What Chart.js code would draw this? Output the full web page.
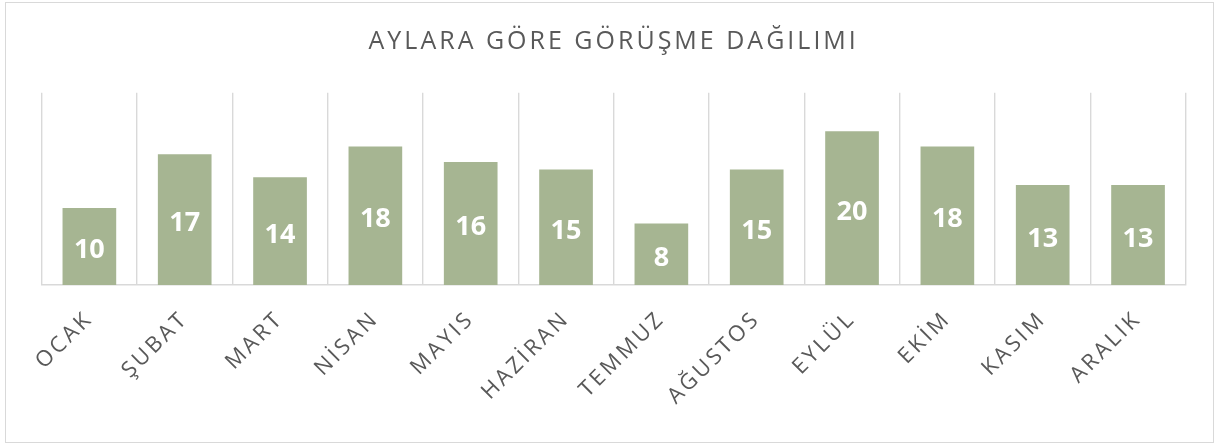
<!DOCTYPE html>
<html lang="tr">
<head>
<meta charset="utf-8">
<title>Aylara Göre Görüşme Dağılımı</title>
<script src="https://cdn.jsdelivr.net/npm/chart.js@4.4.0/dist/chart.umd.min.js"></script>
<style>
    html, body { margin: 0; padding: 0; background: #fff; }
    #wrap { position: relative; width: 1215px; height: 446px; }
    #frame { position: absolute; left: 5px; top: 2px; width: 1207px; height: 439px; border: 1px solid #d9d9d9; pointer-events: none; }
</style>
</head>
<body>
<div id="wrap">
    <canvas id="chart" width="1215" height="446"></canvas>
    <div id="frame"></div>
</div>
<script>
// Veriler
const months = ['OCAK', 'ŞUBAT', 'MART', 'NİSAN', 'MAYIS', 'HAZİRAN', 'TEMMUZ', 'AĞUSTOS', 'EYLÜL', 'EKİM', 'KASIM', 'ARALIK'];
const interviews = [10, 17, 14, 18, 16, 15, 8, 15, 20, 18, 13, 13];
const chartTitle = 'AYLARA GÖRE GÖRÜŞME DAĞILIMI';
const yMin = 0;
const yMax = 25;

const textGray = '#595959';
const gridGray = '#d9d9d9';
const barGreen = '#a6b592';

// Başlık ve eksen yazıları için harf aralığı
const letterSpacing = {
    id: 'letterSpacing',
    beforeInit(chart) { chart.ctx.letterSpacing = '3px'; },
    beforeDraw(chart) { chart.ctx.letterSpacing = '3px'; }
};

// Çubukların ortasına beyaz değer etiketleri
const barValueLabels = {
    id: 'barValueLabels',
    afterDatasetsDraw(chart) {
        const ctx = chart.ctx;
        const meta = chart.getDatasetMeta(0);
        ctx.save();
        ctx.letterSpacing = '0px';
        ctx.font = 'bold 27px "Open Sans"';
        ctx.fillStyle = '#ffffff';
        ctx.textAlign = 'center';
        ctx.textBaseline = 'middle';
        meta.data.forEach((bar, i) => {
            const { x, y, base } = bar.getProps(['x', 'y', 'base'], true);
            ctx.fillText(String(interviews[i]), x, (y + base) / 2 + 4);
        });
        ctx.restore();
    }
};

new Chart(document.getElementById('chart'), {
    type: 'bar',
    data: {
        labels: months,
        datasets: [{
            data: interviews,
            backgroundColor: barGreen,
            borderWidth: 0,
            categoryPercentage: 1,
            barPercentage: 0.563
        }]
    },
    options: {
        responsive: false,
        animation: false,
        layout: { padding: { left: 41.7, right: 29.3, top: 0, bottom: 0 } },
        plugins: {
            legend: { display: false },
            tooltip: { enabled: false },
            title: {
                display: true,
                text: chartTitle,
                color: textGray,
                font: { family: 'Open Sans', size: 25, weight: 'normal' },
                padding: { top: 27, bottom: 35.7 }
            }
        },
        scales: {
            x: {
                grid: { display: true, offset: true, color: gridGray, lineWidth: 1.4, drawTicks: false },
                border: { display: true, color: gridGray, width: 1.4 },
                ticks: {
                    color: textGray,
                    font: { family: 'Open Sans', size: 22 },
                    minRotation: 45,
                    maxRotation: 45,
                    autoSkip: false,
                    padding: 21
                },
                afterFit(scale) { scale.height = 161; }
            },
            y: { display: false, min: yMin, max: yMax }
        }
    },
    plugins: [letterSpacing, barValueLabels]
});
</script>
</body>
</html>
